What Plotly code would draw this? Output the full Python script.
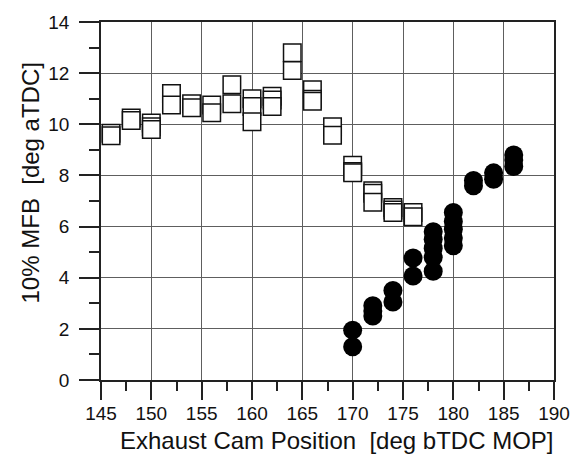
import plotly.graph_objects as go

# Open squares (repeated measurements at each cam position)
sq_x = [146, 146, 148, 148, 150, 150, 150, 152, 152, 154, 154, 156, 156,
        158, 158, 160, 160, 160, 162, 162, 162, 164, 164, 166, 166, 166,
        168, 168, 170, 170, 170, 172, 172, 172, 174, 174, 174, 176, 176]
sq_y = [9.65, 9.55, 10.25, 10.15, 10.05, 9.9, 9.8, 11.2, 10.75, 10.8, 10.65, 10.75, 10.45,
        11.55, 10.8, 11.0, 10.7, 10.1, 11.1, 10.95, 10.7, 12.8, 12.1, 11.35, 10.98, 10.9,
        9.9, 9.57, 8.4, 8.15, 8.1, 7.4, 7.3, 6.95, 6.75, 6.65, 6.55, 6.55, 6.38]

# Filled circles
ci_x = [170, 170, 172, 172, 172, 174, 174, 176, 176, 178, 178, 178, 178, 178,
        180, 180, 180, 180, 180, 182, 182, 184, 184, 186, 186, 186]
ci_y = [1.95, 1.3, 2.9, 2.7, 2.5, 3.5, 3.05, 4.77, 4.07, 5.8, 5.5, 5.15, 4.8, 4.25,
        6.55, 6.2, 5.9, 5.55, 5.25, 7.8, 7.6, 8.1, 7.85, 8.8, 8.6, 8.35]

x_ticks = [145, 150, 155, 160, 165, 170, 175, 180, 185, 190]
y_ticks = [0, 2, 4, 6, 8, 10, 12, 14]

x_title = "Exhaust Cam Position\u00a0 [deg bTDC MOP]"
y_title = "10% MFB\u00a0 [deg aTDC]"

FONT = "Liberation Sans, Arial, sans-serif"

fig = go.Figure()
fig.add_trace(go.Scatter(
    x=sq_x, y=sq_y, mode="markers",
    marker=dict(symbol="square", size=17.5, color="white",
                line=dict(color="#111", width=1.5)),
    showlegend=False))
fig.add_trace(go.Scatter(
    x=ci_x, y=ci_y, mode="markers",
    marker=dict(symbol="circle", size=19, color="black",
                line=dict(color="black", width=0)),
    showlegend=False))

axis_common = dict(
    showline=True, linecolor="#222", linewidth=1.5, mirror=True,
    showgrid=True, gridcolor="#5e5e5e", gridwidth=1.3,
    ticks="outside", tickcolor="#222", tickwidth=1.5,
    zeroline=False,
    tickfont=dict(family=FONT, size=19, color="#111"),
)

fig.update_xaxes(
    range=[145, 190], tickvals=x_ticks, ticktext=[str(v) for v in x_ticks],
    ticklen=18, ticklabelstandoff=-3,
    minor=dict(dtick=2.5, tick0=145, ticks="outside", ticklen=9, tickcolor="#222",
               tickwidth=1.5, showgrid=False),
    **axis_common)
fig.update_yaxes(
    range=[0, 14], tickvals=y_ticks, ticktext=[str(v) for v in y_ticks],
    ticklen=20, ticklabelstandoff=6,
    minor=dict(dtick=1, tick0=0, ticks="outside", ticklen=10, tickcolor="#222",
               tickwidth=1.5, showgrid=False),
    **axis_common)

fig.add_annotation(
    text=x_title, xref="paper", yref="paper", x=0.521, y=-0.1676,
    xanchor="center", yanchor="middle", showarrow=False,
    font=dict(family=FONT, size=24, color="#111"))
fig.add_annotation(
    text=y_title, xref="paper", yref="paper", x=-0.1567, y=0.549,
    xanchor="center", yanchor="middle", textangle=-90, showarrow=False,
    font=dict(family=FONT, size=24, color="#111"))

fig.update_layout(
    width=586, height=462,
    margin=dict(l=101, r=32, t=16, b=82),
    paper_bgcolor="white", plot_bgcolor="white",
)

fig.write_html("out.html")
